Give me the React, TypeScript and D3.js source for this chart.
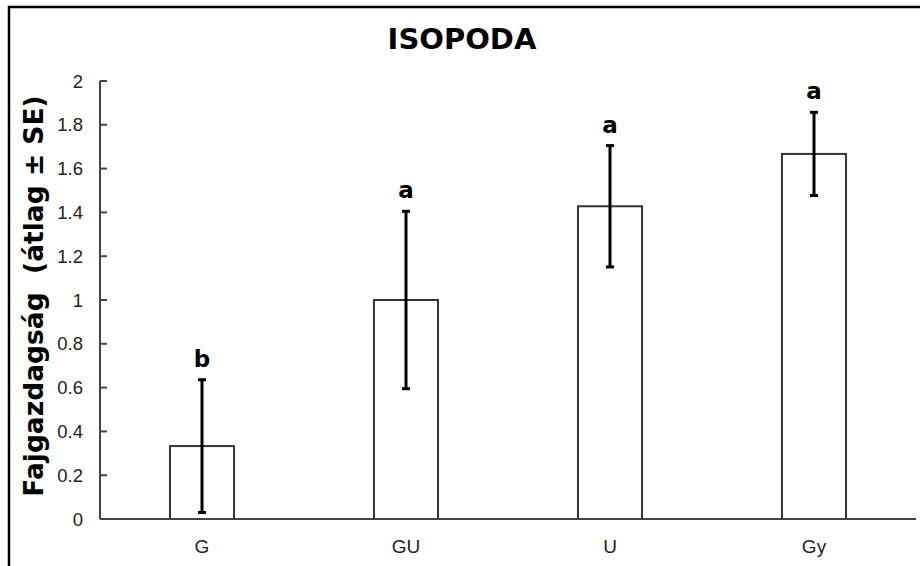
import React from "react";
import * as d3 from "d3";

const categories = ["G", "GU", "U", "Gy"];
const means = [0.333, 1.0, 1.428, 1.667];
const errors = [0.303, 0.405, 0.277, 0.19];
const letters = ["b", "a", "a", "a"];
const yTicks = [0, 0.2, 0.4, 0.6, 0.8, 1, 1.2, 1.4, 1.6, 1.8, 2];
const title = "ISOPODA";
const yLabel = "Fajgazdagság  (átlag ± SE)";

const W = 920;
const H = 566;
const SANS = "'Liberation Sans', Arial, Helvetica, sans-serif";

export default function App() {
  const x = d3
    .scaleBand<string>()
    .domain(categories)
    .range([100, 916])
    .paddingInner(0.686)
    .paddingOuter(0.343);
  const y = d3.scaleLinear().domain([0, 2]).range([519, 81]);
  const bw = x.bandwidth();

  return (
    <svg
      width={W}
      height={H}
      style={{ position: "absolute", left: 0, top: 0, background: "#fff" }}
    >
      <rect x={0} y={0} width={W} height={H} fill="#fff" />
      <path d={`M9,${H} L9,7 L${W},7`} fill="none" stroke="#000" strokeWidth={2.5} />
      <text
        x={462}
        y={49}
        textAnchor="middle"
        style={{ fontFamily: "'DejaVu Sans'", fontWeight: "bold", fontSize: 29 }}
        fill="#000"
      >
        {title}
      </text>
      <text
        transform={`translate(43,296) rotate(-90)`}
        textAnchor="middle"
        style={{ fontFamily: "'DejaVu Sans'", fontWeight: "bold", fontSize: 26.5, whiteSpace: "pre" }}
        fill="#000"
      >
        {yLabel}
      </text>
      <line x1={100} x2={100} y1={y(2)} y2={y(0)} stroke="#444" strokeWidth={2} />
      {yTicks.map((t) => (
        <g key={t}>
          {t > 0 && (
            <line x1={100} x2={107} y1={y(t)} y2={y(t)} stroke="#444" strokeWidth={2} />
          )}
          <text
            x={83}
            y={y(t)}
            dy="0.36em"
            textAnchor="end"
            style={{ fontFamily: SANS, fontSize: 18.5 }}
            fill="#222"
          >
            {String(t)}
          </text>
        </g>
      ))}
      {categories.map((c, i) => {
        const bx = x(c)!;
        const cx = bx + bw / 2;
        const top = y(means[i] + errors[i]);
        const bot = y(means[i] - errors[i]);
        return (
          <g key={c}>
            <rect
              x={bx}
              y={y(means[i])}
              width={bw}
              height={y(0) - y(means[i])}
              fill="#fff"
              stroke="#333"
              strokeWidth={2}
            />
            <line x1={cx} x2={cx} y1={top} y2={bot} stroke="#000" strokeWidth={3} />
            <line x1={cx - 4} x2={cx + 4} y1={top} y2={top} stroke="#000" strokeWidth={3} />
            <line x1={cx - 4} x2={cx + 4} y1={bot} y2={bot} stroke="#000" strokeWidth={3} />
            <text
              x={cx}
              y={top - 13}
              textAnchor="middle"
              style={{ fontFamily: "'DejaVu Sans'", fontWeight: "bold", fontSize: 23 }}
              fill="#000"
            >
              {letters[i]}
            </text>
            <text
              x={cx}
              y={553}
              textAnchor="middle"
              style={{ fontFamily: SANS, fontSize: 19 }}
              fill="#222"
            >
              {c}
            </text>
          </g>
        );
      })}
      <line x1={100} x2={916} y1={y(0)} y2={y(0)} stroke="#444" strokeWidth={2} />
    </svg>
  );
}
